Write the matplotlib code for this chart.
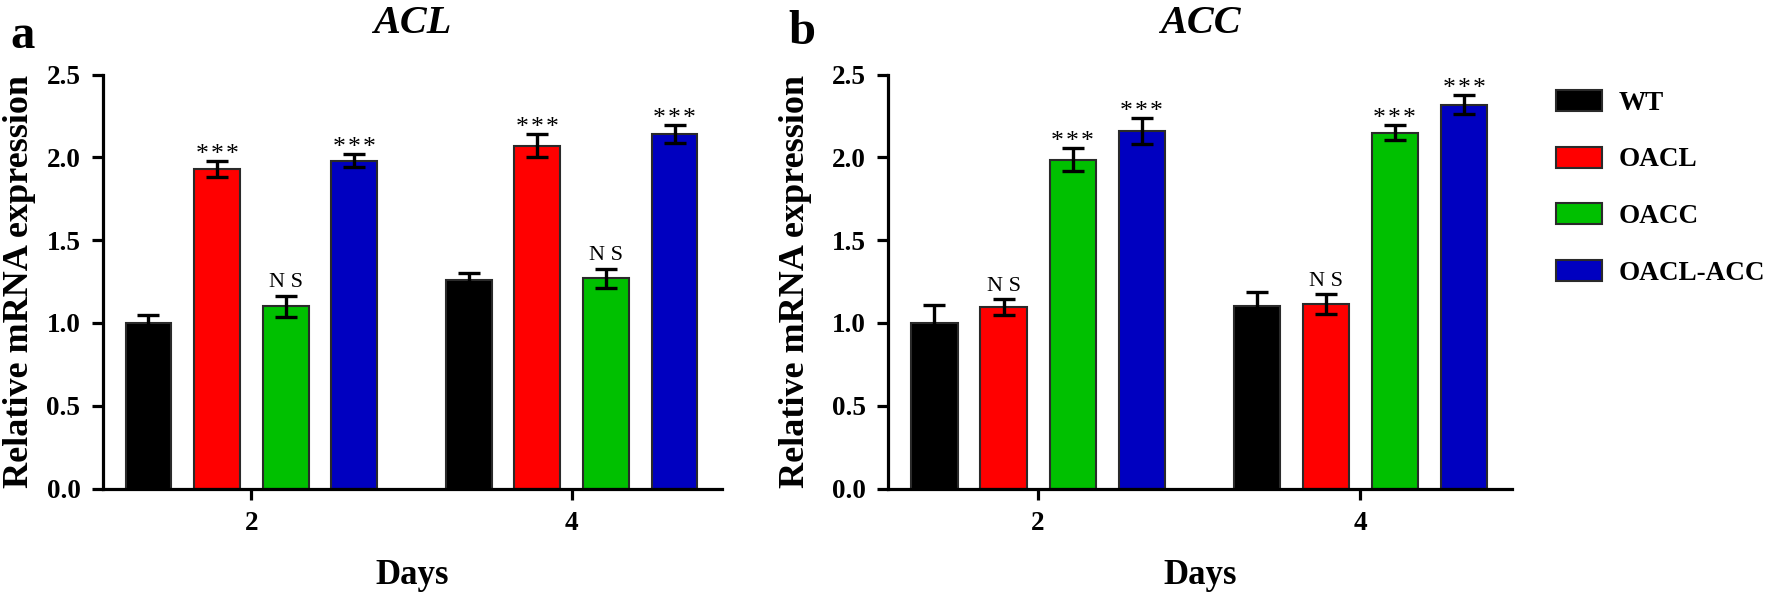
import matplotlib
matplotlib.use("Agg")
import matplotlib.pyplot as plt
import numpy as np
from matplotlib.patches import Patch

plt.rcParams['font.family'] = ['Liberation Serif', 'DejaVu Serif']

days = ["2", "4"]
groups = ["WT", "OACL", "OACC", "OACL-ACC"]
colors = ["#000000", "#FF0000", "#00C000", "#0000C0"]

# Panel a: ACL
acl_mean = {
    "WT": [1.00, 1.26],
    "OACL": [1.93, 2.07],
    "OACC": [1.10, 1.27],
    "OACL-ACC": [1.98, 2.14],
}
acl_err = {
    "WT": [0.05, 0.04],
    "OACL": [0.048, 0.07],
    "OACC": [0.065, 0.058],
    "OACL-ACC": [0.04, 0.053],
}
acl_sig = {
    "WT": ["", ""],
    "OACL": ["***", "***"],
    "OACC": ["N S", "N S"],
    "OACL-ACC": ["***", "***"],
}

# Panel b: ACC
acc_mean = {
    "WT": [1.00, 1.10],
    "OACL": [1.095, 1.115],
    "OACC": [1.985, 2.15],
    "OACL-ACC": [2.16, 2.317],
}
acc_err = {
    "WT": [0.11, 0.085],
    "OACL": [0.05, 0.058],
    "OACC": [0.07, 0.044],
    "OACL-ACC": [0.078, 0.057],
}
acc_sig = {
    "WT": ["", ""],
    "OACL": ["N S", "N S"],
    "OACC": ["***", "***"],
    "OACL-ACC": ["***", "***"],
}

W, H = 1773, 595
fig = plt.figure(figsize=(W / 100, H / 100), dpi=100)

step = 0.2145
width = 0.1434
xg = np.arange(len(days))


def draw(ax, means, errs, sigs, title):
    for i, g in enumerate(groups):
        xs = xg + (i - 1.5) * step
        ax.bar(xs, means[g], width=width, color=colors[i], edgecolor="#2a2a2a",
               linewidth=1.5, zorder=2)
        ax.errorbar(xs, means[g], yerr=errs[g], fmt="none", ecolor="black",
                    elinewidth=2.4, capsize=8, capthick=2.4, zorder=3)
        for x, m, e, s in zip(xs, means[g], errs[g], sigs[g]):
            if not s:
                continue
            if s == "***":
                ax.annotate("*\u200a*\u200a*", (x, m + e), xytext=(0, 0),
                            textcoords="offset points",
                            ha="center", va="baseline", fontsize=18.5)
            else:
                ax.annotate(s, (x, m + e), xytext=(0, 6), textcoords="offset points",
                            ha="center", va="baseline", fontsize=16)
    ax.set_xlim(-0.465, 1.47)
    ax.set_ylim(0, 2.5)
    ax.set_yticks([0, 0.5, 1.0, 1.5, 2.0, 2.5])
    ax.set_yticklabels([f"{v:.1f}" for v in [0, 0.5, 1.0, 1.5, 2.0, 2.5]])
    ax.set_xticks(xg)
    ax.set_xticklabels(days)
    for s in ["top", "right"]:
        ax.spines[s].set_visible(False)
    for s in ["left", "bottom"]:
        ax.spines[s].set_linewidth(2.3)
    ax.tick_params(axis="both", width=2.3, length=8, labelsize=19.5, pad=8)
    for lab in ax.get_xticklabels() + ax.get_yticklabels():
        lab.set_fontweight("bold")
    ax.set_title(title, fontsize=29, fontweight="bold", fontstyle="italic", pad=30)


axL = 102.6 / W
axB = 1 - 488.5 / H
axH = (488.5 - 74.6) / H
ax1 = fig.add_axes([axL, axB, (722 - 102.6) / W, axH])
ax2 = fig.add_axes([888.3 / W, axB, (1511.7 - 888.3) / W, axH])

draw(ax1, acl_mean, acl_err, acl_sig, "ACL")
draw(ax2, acc_mean, acc_err, acc_sig, "ACC")

for xc in [19.5, 796]:
    fig.text(xc / W, 1 - 281 / H, "Relative mRNA expression", rotation=90,
             ha="center", va="center", fontsize=26, fontweight="bold")
for xc in [412, 1200]:
    fig.text(xc / W, 1 - 584 / H, "Days", ha="center", va="baseline",
             fontsize=25, fontweight="bold")

fig.text(10 / W, 1 - 48 / H, "a", ha="left", va="baseline", fontsize=35, fontweight="bold")
fig.text(788 / W, 1 - 44 / H, "b", ha="left", va="baseline", fontsize=35, fontweight="bold")

handles = [Patch(facecolor=c, edgecolor="#2a2a2a", linewidth=1.5, label=g)
           for g, c in zip(groups, colors)]
fig.legend(handles=handles, loc="upper left", bbox_to_anchor=(1556 / W, 1 - 90 / H),
           frameon=False, prop={"weight": "bold", "size": 19.5},
           handlelength=1.7, handleheight=0.82, handletextpad=0.6,
           labelspacing=1.13, borderpad=0, borderaxespad=0)

fig.savefig("out.png", dpi=100)
